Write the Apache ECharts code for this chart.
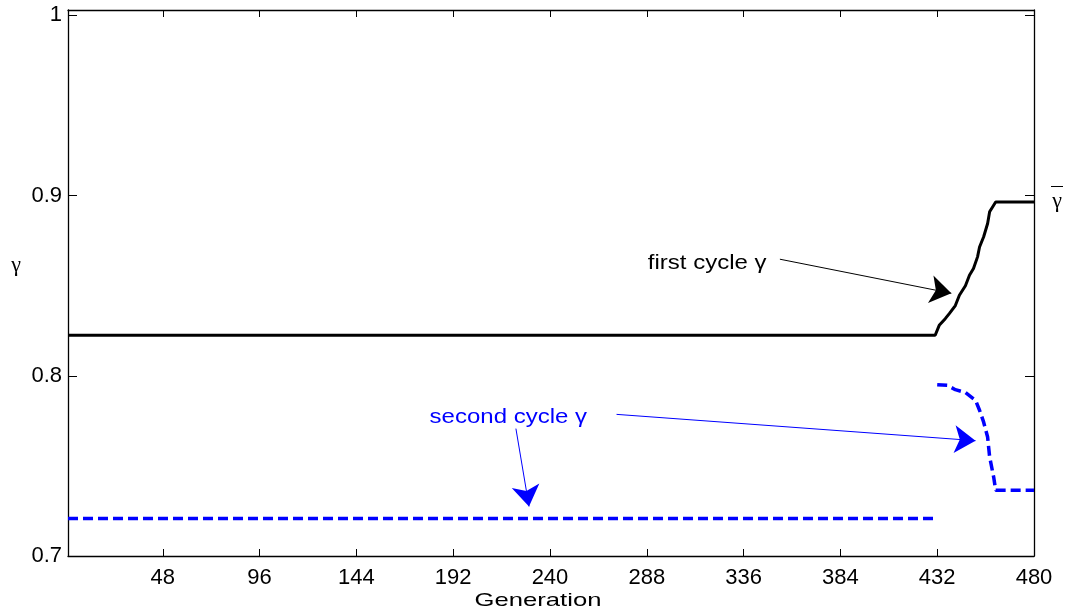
<!DOCTYPE html>
<html>
<head>
<meta charset="utf-8">
<script src="https://cdn.jsdelivr.net/npm/echarts@6/dist/echarts.min.js"></script>
<style>
html, body { margin: 0; padding: 0; background: #fff; }
#chart { width: 1068px; height: 614px; }
</style>
</head>
<body>
<div id="chart"></div>
<script>
// axis ticks
var genTicks = [48, 96, 144, 192, 240, 288, 336, 384, 432, 480];
var gammaTicks = [0.7, 0.8, 0.9, 1];

// first cycle gamma (solid black)
var firstGen = [1, 431, 433, 436, 438, 441, 443, 446, 448, 450, 452, 453, 455, 457, 458, 461, 480];
var firstGamma = [0.8225, 0.8225, 0.828, 0.8317, 0.8345, 0.839, 0.8447, 0.850, 0.8558, 0.8595, 0.866, 0.8715, 0.877, 0.8845, 0.891, 0.8965, 0.8965];

// second cycle gamma (dashed blue), drawn in two pieces
var secondGenA = [1, 431];
var secondGammaA = [0.7208, 0.7208];
var secondGenB = [432, 437, 441, 446, 451, 453, 455, 457, 458, 460, 461, 480];
var secondGammaB = [0.7951, 0.7947, 0.7923, 0.7907, 0.7864, 0.7809, 0.7744, 0.766, 0.755, 0.7438, 0.7365, 0.7365];

function pairs(xs, ys) {
    var out = [];
    for (var i = 0; i < xs.length; i++) {
        out.push([xs[i], ys[i]]);
    }
    return out;
}

var font = 'Arial, "Liberation Sans", Helvetica, sans-serif';
var serif = '"Liberation Serif", "DejaVu Serif", serif';
var blue = '#0000ff';

// arrow lines, in data coords
function arrow(from, to) {
    return [{coord: from}, {coord: to}];
}

var chart = echarts.init(document.getElementById('chart'));

var xBase = {
    type: 'value',
    min: 1,
    max: 480,
    splitLine: {show: false},
    axisLine: {show: true, onZero: false, lineStyle: {color: '#000', width: 1.3}},
    axisTick: {show: true, inside: true, length: 7, customValues: genTicks, lineStyle: {color: '#000'}}
};
var yBase = {
    type: 'value',
    min: 0.7,
    max: 1.003,
    splitLine: {show: false},
    axisLine: {show: true, onZero: false, lineStyle: {color: '#000', width: 1.3}},
    axisTick: {show: true, inside: true, length: 9, customValues: gammaTicks, lineStyle: {color: '#000'}}
};

var options = {
    animation: false,
    backgroundColor: '#fff',
    grid: {left: 68, right: 34, top: 10, bottom: 58},
    xAxis: [
        echarts.util.merge({
            position: 'bottom',
            axisLabel: {customValues: genTicks, fontSize: 22, fontFamily: font, color: '#000', margin: 11}
        }, xBase),
        echarts.util.merge({
            position: 'top',
            axisLabel: {show: false}
        }, xBase)
    ],
    yAxis: [
        echarts.util.merge({
            position: 'left',
            axisLabel: {customValues: gammaTicks, fontSize: 22, fontFamily: font, color: '#000', margin: 6}
        }, yBase),
        echarts.util.merge({
            position: 'right',
            axisLabel: {show: false}
        }, yBase)
    ],
    series: [
        {
            name: 'first cycle',
            type: 'line',
            data: pairs(firstGen, firstGamma),
            showSymbol: false,
            lineStyle: {color: '#000', width: 3},
            markLine: {
                silent: true,
                symbol: ['none', 'arrow'],
                symbolSize: 21,
                label: {show: false},
                lineStyle: {color: '#000', width: 1, type: 'solid'},
                data: [arrow([354, 0.8647], [439, 0.8458])]
            }
        },
        {
            name: 'second cycle a',
            type: 'line',
            data: pairs(secondGenA, secondGammaA),
            showSymbol: false,
            lineStyle: {color: blue, width: 3.5, type: [10, 5]}
        },
        {
            name: 'second cycle b',
            type: 'line',
            data: pairs(secondGenB, secondGammaB),
            showSymbol: false,
            lineStyle: {color: blue, width: 3.5, type: [10, 5]},
            markLine: {
                silent: true,
                symbol: ['none', 'arrow'],
                symbolSize: 21,
                label: {show: false},
                lineStyle: {color: blue, width: 1, type: 'solid'},
                data: [
                    arrow([273, 0.7786], [451, 0.7640]),
                    arrow([223.1, 0.7707], [229.6, 0.7275])
                ]
            }
        }
    ]
};
chart.setOption(options);

// texts placed after the scales exist
var p1 = chart.convertToPixel({xAxisIndex: 0, yAxisIndex: 0}, [288.5, 0.8623]);
var p2 = chart.convertToPixel({xAxisIndex: 0, yAxisIndex: 0}, [180.3, 0.7771]);

chart.setOption({
    graphic: [
        {
            type: 'text', x: p1[0], y: p1[1], scaleX: 1.2, silent: true,
            style: {text: 'first cycle γ', fontSize: 20, fontFamily: font, fill: '#000', textAlign: 'left', textVerticalAlign: 'middle'}
        },
        {
            type: 'text', x: p2[0], y: p2[1], scaleX: 1.2, silent: true,
            style: {text: 'second cycle γ', fontSize: 20, fontFamily: font, fill: blue, textAlign: 'left', textVerticalAlign: 'middle'}
        },
        {
            type: 'text', x: 538, y: 601, scaleX: 1.35, silent: true,
            style: {text: 'Generation', fontSize: 19, fontFamily: font, fill: '#000', textAlign: 'center', textVerticalAlign: 'middle'}
        },
        {
            type: 'text', x: 16, y: 265, silent: true,
            style: {text: 'γ', fontSize: 22, fontFamily: serif, fill: '#000', textAlign: 'center', textVerticalAlign: 'middle'}
        },
        {
            type: 'text', x: 1057, y: 201, silent: true,
            style: {text: 'γ', fontSize: 22, fontFamily: serif, fill: '#000', textAlign: 'center', textVerticalAlign: 'middle'}
        },
        {
            type: 'line', silent: true,
            shape: {x1: 1051, y1: 186.5, x2: 1063, y2: 186.5},
            style: {stroke: '#000', lineWidth: 1}
        }
    ]
});
</script>
</body>
</html>
